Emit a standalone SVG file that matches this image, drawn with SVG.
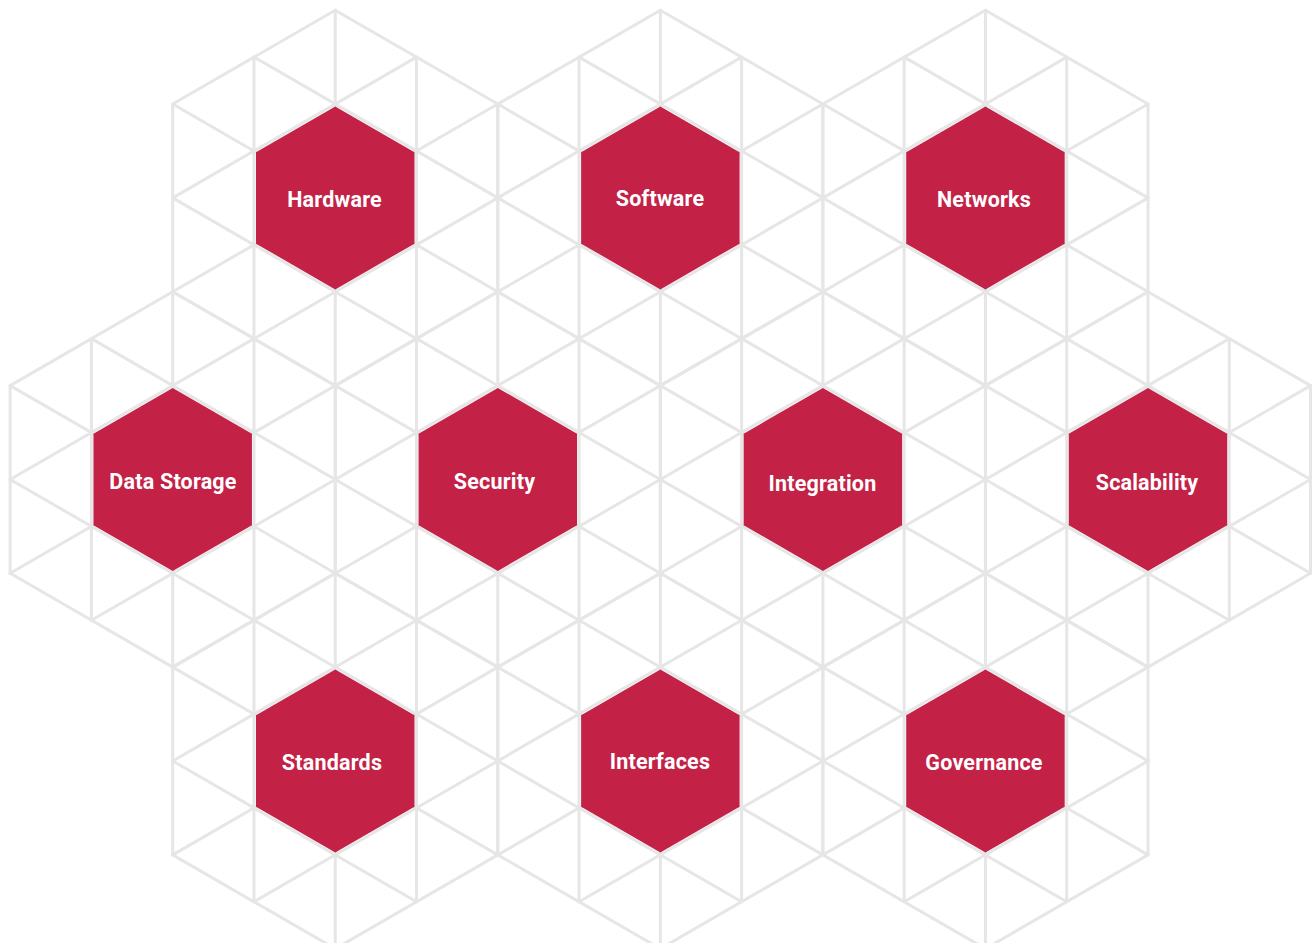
<svg xmlns="http://www.w3.org/2000/svg" xmlns:xlink="http://www.w3.org/1999/xlink" width="1312" height="943" viewBox="0 0 1312 943">
  <style>
    .grid line { stroke: #e6e6e6; stroke-width: 3; stroke-linecap: round; fill: none; }
    .hex { fill: #c32146; }
    .lbl { fill: #ffffff; font-family: Roboto, "Liberation Sans", sans-serif; font-weight: 700; font-size: 21.5px; text-anchor: middle; letter-spacing: 0.2px; }
  </style>
  <defs>
    <g id="v" class="grid">
      <line x1="0" y1="-187.7" x2="0" y2="187.7"/>
      <line x1="81.28" y1="-140.78" x2="81.28" y2="140.78"/>
      <line x1="-81.28" y1="-140.78" x2="-81.28" y2="140.78"/>
      <line x1="162.55" y1="-93.85" x2="162.55" y2="93.85"/>
      <line x1="-162.55" y1="-93.85" x2="-162.55" y2="93.85"/>
    </g>
    <g id="cell">
      <use xlink:href="#v"/>
      <use xlink:href="#v" transform="rotate(60)"/>
      <use xlink:href="#v" transform="rotate(120)"/>
    </g>
    <polygon id="hx" points="0,-91.5 79.24,-45.75 79.24,45.75 0,91.5 -79.24,45.75 -79.24,-45.75"/>
  </defs>

  <g id="connectors" class="grid">
    <use xlink:href="#cell" transform="translate(335.25,197.9)"/>
    <use xlink:href="#cell" transform="translate(660.35,197.9)"/>
    <use xlink:href="#cell" transform="translate(985.45,197.9)"/>
    <use xlink:href="#cell" transform="translate(172.7,479.45)"/>
    <use xlink:href="#cell" transform="translate(497.8,479.45)"/>
    <use xlink:href="#cell" transform="translate(822.9,479.45)"/>
    <use xlink:href="#cell" transform="translate(1148,479.45)"/>
    <use xlink:href="#cell" transform="translate(335.25,761)"/>
    <use xlink:href="#cell" transform="translate(660.35,761)"/>
    <use xlink:href="#cell" transform="translate(985.45,761)"/>
  </g>

  <g id="node-hardware">
    <use xlink:href="#hx" class="hex" transform="translate(335.25,197.9)"/>
    <text class="lbl" x="334.5" y="206.5">Hardware</text>
  </g>
  <g id="node-software">
    <use xlink:href="#hx" class="hex" transform="translate(660.35,197.9)"/>
    <text class="lbl" x="660" y="205.5">Software</text>
  </g>
  <g id="node-networks">
    <use xlink:href="#hx" class="hex" transform="translate(985.45,197.9)"/>
    <text class="lbl" x="984" y="206.5">Networks</text>
  </g>
  <g id="node-data-storage">
    <use xlink:href="#hx" class="hex" transform="translate(172.7,479.45)"/>
    <text class="lbl" x="173" y="488.5">Data Storage</text>
  </g>
  <g id="node-security">
    <use xlink:href="#hx" class="hex" transform="translate(497.8,479.45)"/>
    <text class="lbl" x="494.5" y="488.5">Security</text>
  </g>
  <g id="node-integration">
    <use xlink:href="#hx" class="hex" transform="translate(822.9,479.45)"/>
    <text class="lbl" x="822.5" y="490.5">Integration</text>
  </g>
  <g id="node-scalability">
    <use xlink:href="#hx" class="hex" transform="translate(1148,479.45)"/>
    <text class="lbl" x="1147" y="489.5">Scalability</text>
  </g>
  <g id="node-standards">
    <use xlink:href="#hx" class="hex" transform="translate(335.25,761)"/>
    <text class="lbl" x="332" y="769.5">Standards</text>
  </g>
  <g id="node-interfaces">
    <use xlink:href="#hx" class="hex" transform="translate(660.35,761)"/>
    <text class="lbl" x="660" y="768.5">Interfaces</text>
  </g>
  <g id="node-governance">
    <use xlink:href="#hx" class="hex" transform="translate(985.45,761)"/>
    <text class="lbl" x="984" y="769.5">Governance</text>
  </g>
</svg>
